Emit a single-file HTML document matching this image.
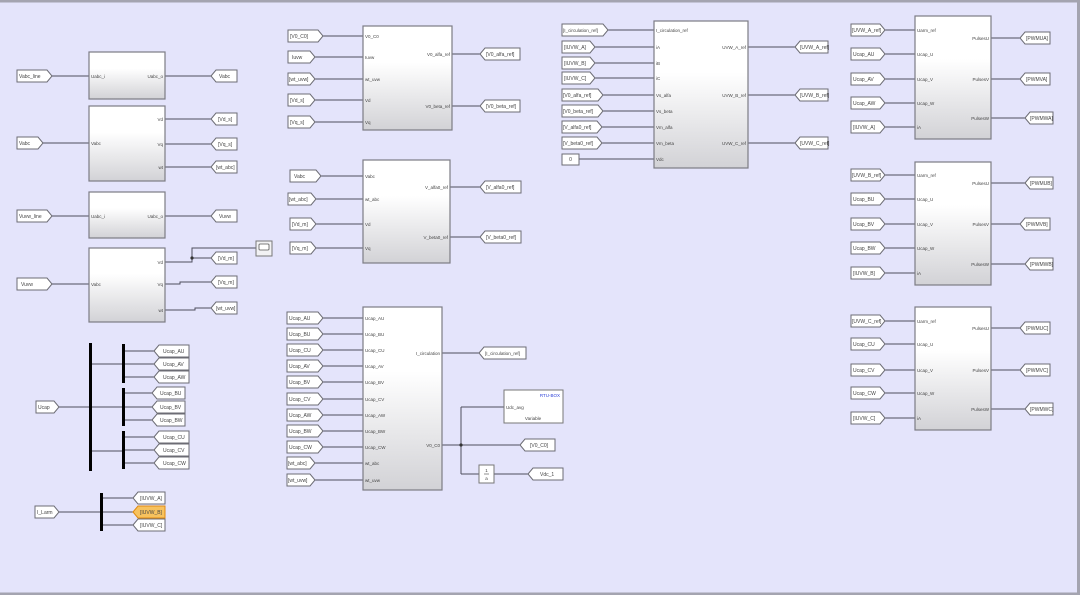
<!DOCTYPE html>
<html><head><meta charset="utf-8"><style>
html,body{margin:0;padding:0;background:#e4e4fb;}
svg{display:block;font-family:"Liberation Sans",sans-serif;}
.b{fill:url(#g);stroke:#7c7c84;stroke-width:1.2;}
.t{fill:#fff;stroke:#6c6c74;stroke-width:1;}
.w{stroke:#4e4e5e;stroke-width:1;fill:none;}
.l{font-size:5px;fill:#444;}
.p{font-size:4.5px;fill:#444;}
.e{text-anchor:end;}
</style></head><body>
<svg width="1080" height="595" viewBox="0 0 1080 595" xmlns="http://www.w3.org/2000/svg">
<defs><linearGradient id="g" x1="0" y1="0" x2="0" y2="1"><stop offset="0" stop-color="#fff"/><stop offset="0.35" stop-color="#fff"/><stop offset="1" stop-color="#d2d2d6"/></linearGradient></defs>
<rect x="0" y="0" width="1080" height="595" fill="#e4e4fb"/>
<rect x="0" y="0" width="1080" height="2.5" fill="#a4a4b0"/>
<rect x="1077" y="0" width="3" height="595" fill="#a4a4b0"/>
<rect x="0" y="592.5" width="1080" height="2.5" fill="#a4a4b0"/>

<!-- Block 1 -->
<polygon class="t" points="17,70 47,70 52,76 47,82 17,82"/><text class="l" x="19" y="78">Vabc_line</text>
<path class="w" d="M52 76H89M165 76H211"/>
<rect class="b" x="89" y="52" width="76" height="47"/>
<text class="p" x="91" y="78">Uabc_i</text><text class="p e" x="163" y="78">Uabc_o</text>
<polygon class="t" points="211,76 216,70 237,70 237,82 216,82"/><text class="l" x="219" y="78">Vabc</text>

<!-- Block 2 -->
<polygon class="t" points="17,137 38,137 43,143 38,149 17,149"/><text class="l" x="19" y="145">Vabc</text>
<path class="w" d="M43 143H89M165 119H211M165 144H211M165 167H211"/>
<rect class="b" x="89" y="106" width="76" height="75"/>
<text class="p" x="91" y="145">Vabc</text>
<text class="p e" x="163" y="121">Vd</text><text class="p e" x="163" y="146">Vq</text><text class="p e" x="163" y="169">wt</text>
<polygon class="t" points="211,119 216,113 237,113 237,125 216,125"/><text class="l" x="218" y="121">[Vd_s]</text>
<polygon class="t" points="211,144 216,138 237,138 237,150 216,150"/><text class="l" x="218" y="146">[Vq_s]</text>
<polygon class="t" points="211,167 216,161 237,161 237,173 216,173"/><text class="l" x="216" y="169">[wt_abc]</text>

<!-- Block 3 -->
<polygon class="t" points="17,210 47,210 52,216 47,222 17,222"/><text class="l" x="19" y="218">Vuvw_line</text>
<path class="w" d="M52 216H89M165 216H211"/>
<rect class="b" x="89" y="192" width="76" height="46"/>
<text class="p" x="91" y="218">Uabc_i</text><text class="p e" x="163" y="218">Uabc_o</text>
<polygon class="t" points="211,216 216,210 237,210 237,222 216,222"/><text class="l" x="219" y="218">Vuvw</text>

<!-- Block 4 -->
<polygon class="t" points="17,278 47,278 52,284 47,290 17,290"/><text class="l" x="21" y="286">Vuvw</text>
<path class="w" d="M52 284H89M165 262H192V248H256M192 258H211M165 284H180V282H211M165 310H195V308H211"/>
<circle cx="192" cy="258" r="1.6" fill="#333"/>
<rect class="b" x="89" y="248" width="76" height="74"/>
<text class="p" x="91" y="286">Vabc</text>
<text class="p e" x="163" y="264">Vd</text><text class="p e" x="163" y="286">Vq</text><text class="p e" x="163" y="312">wt</text>
<rect x="256" y="241" width="16" height="15" fill="#f2f2f4" stroke="#777" stroke-width="1"/>
<rect x="259" y="244" width="10" height="6" rx="1" fill="#fff" stroke="#555" stroke-width="0.8"/>
<polygon class="t" points="211,258 216,252 237,252 237,264 216,264"/><text class="l" x="218" y="260">[Vd_m]</text>
<polygon class="t" points="211,282 216,276 237,276 237,288 216,288"/><text class="l" x="218" y="284">[Vq_m]</text>
<polygon class="t" points="211,308 216,302 237,302 237,314 216,314"/><text class="l" x="216" y="310">[wt_uvw]</text>

<!-- Bus Ucap -->
<polygon class="t" points="36,401 54,401 59,407 54,413 36,413"/><text class="l" x="38" y="409">Ucap</text>
<path class="w" d="M59 407H89M92 364H122M92 407H122M92 451H122M125 351H154M125 364H154M125 377H154M125 393H152M125 407H152M125 420H152M125 437H154M125 450H154M125 463H154"/>
<rect x="89" y="343" width="3" height="128" fill="#000"/>
<rect x="122" y="344" width="3" height="39" fill="#000"/>
<rect x="122" y="388" width="3" height="38" fill="#000"/>
<rect x="122" y="431" width="3" height="38" fill="#000"/>
<polygon class="t" points="154,351 159,345 189,345 189,357 159,357"/><text class="l" x="163" y="353">Ucap_AU</text>
<polygon class="t" points="154,364 159,358 189,358 189,370 159,370"/><text class="l" x="163" y="366">Ucap_AV</text>
<polygon class="t" points="154,377 159,371 189,371 189,383 159,383"/><text class="l" x="163" y="379">Ucap_AW</text>
<polygon class="t" points="152,393 157,387 185,387 185,399 157,399"/><text class="l" x="160" y="395">Ucap_BU</text>
<polygon class="t" points="152,407 157,401 185,401 185,413 157,413"/><text class="l" x="160" y="409">Ucap_BV</text>
<polygon class="t" points="152,420 157,414 185,414 185,426 157,426"/><text class="l" x="160" y="422">Ucap_BW</text>
<polygon class="t" points="154,437 159,431 189,431 189,443 159,443"/><text class="l" x="163" y="439">Ucap_CU</text>
<polygon class="t" points="154,450 159,444 189,444 189,456 159,456"/><text class="l" x="163" y="452">Ucap_CV</text>
<polygon class="t" points="154,463 159,457 189,457 189,469 159,469"/><text class="l" x="163" y="465">Ucap_CW</text>

<!-- Bus I_Larm -->
<polygon class="t" points="35,506 54,506 59,512 54,518 35,518"/><text class="l" x="37" y="514">I_Larm</text>
<path class="w" d="M59 512H100M103 498H133M103 512H133M103 525H133"/>
<rect x="100" y="493" width="3" height="38" fill="#000"/>
<polygon class="t" points="133,498 138,492 165,492 165,504 138,504"/><text class="l" x="140" y="500">[IUVW_A]</text>
<polygon points="133,512 138,506 165,506 165,518 138,518" fill="#f7c25e" stroke="#e08a10" stroke-width="1"/><text class="l" x="140" y="514">[IUVW_B]</text>
<polygon class="t" points="133,525 138,519 165,519 165,531 138,531"/><text class="l" x="140" y="527">[IUVW_C]</text>

<!-- Block 5 -->
<path class="w" d="M323 36H363M315 57H363M315 79H363M315 100H363M315 122H363M452 54H480M452 106H480"/>
<polygon class="t" points="288,30 318,30 323,36 318,42 288,42"/><text class="l" x="290" y="38">[V0_C0]</text>
<polygon class="t" points="288,51 310,51 315,57 310,63 288,63"/><text class="l" x="292" y="59">Iuvw</text>
<polygon class="t" points="288,73 310,73 315,79 310,85 288,85"/><text class="l" x="289" y="81">[wt_uvw]</text>
<polygon class="t" points="288,94 310,94 315,100 310,106 288,106"/><text class="l" x="290" y="102">[Vd_s]</text>
<polygon class="t" points="288,116 310,116 315,122 310,128 288,128"/><text class="l" x="290" y="124">[Vq_s]</text>
<rect class="b" x="363" y="26" width="89" height="104"/>
<text class="p" x="365" y="38">V0_C0</text><text class="p" x="365" y="59">Iuvw</text><text class="p" x="365" y="81">wt_uvw</text><text class="p" x="365" y="102">Vd</text><text class="p" x="365" y="124">Vq</text>
<text class="p e" x="450" y="56">V0_alfa_ref</text><text class="p e" x="450" y="108">V0_beta_ref</text>
<polygon class="t" points="480,54 485,48 520,48 520,60 485,60"/><text class="l" x="486" y="56">[V0_alfa_ref]</text>
<polygon class="t" points="480,106 485,100 520,100 520,112 485,112"/><text class="l" x="486" y="108">[V0_beta_ref]</text>

<!-- Block 6 -->
<path class="w" d="M321 176H363M316 199H363M316 224H363M316 248H363M450 187H480M450 237H480"/>
<polygon class="t" points="290,170 316,170 321,176 316,182 290,182"/><text class="l" x="294" y="178">Vabc</text>
<polygon class="t" points="288,193 311,193 316,199 311,205 288,205"/><text class="l" x="289" y="201">[wt_abc]</text>
<polygon class="t" points="290,218 311,218 316,224 311,230 290,230"/><text class="l" x="292" y="226">[Vd_m]</text>
<polygon class="t" points="290,242 311,242 316,248 311,254 290,254"/><text class="l" x="292" y="250">[Vq_m]</text>
<rect class="b" x="363" y="160" width="87" height="103"/>
<text class="p" x="365" y="178">Vabc</text><text class="p" x="365" y="201">wt_abc</text><text class="p" x="365" y="226">Vd</text><text class="p" x="365" y="250">Vq</text>
<text class="p e" x="448" y="189">V_alfa0_ref</text><text class="p e" x="448" y="239">V_beta0_ref</text>
<polygon class="t" points="480,187 485,181 521,181 521,193 485,193"/><text class="l" x="486" y="189">[V_alfa0_ref]</text>
<polygon class="t" points="480,237 485,231 521,231 521,243 485,243"/><text class="l" x="486" y="239">[V_beta0_ref]</text>

<!-- Block 7 -->
<path class="w" d="M323 318H363M323 334H363M323 350H363M323 366H363M323 382H363M323 399H363M323 415H363M323 431H363M323 447H363M315 463H363M315 480H363M442 353H479M442 445H520M461 407V474M461 407H504M461 474H479M494 474H528"/>
<polygon class="t" points="287,312 318,312 323,318 318,324 287,324"/><text class="l" x="289" y="320">Ucap_AU</text>
<polygon class="t" points="287,328 318,328 323,334 318,340 287,340"/><text class="l" x="289" y="336">Ucap_BU</text>
<polygon class="t" points="287,344 318,344 323,350 318,356 287,356"/><text class="l" x="289" y="352">Ucap_CU</text>
<polygon class="t" points="287,360 318,360 323,366 318,372 287,372"/><text class="l" x="289" y="368">Ucap_AV</text>
<polygon class="t" points="287,376 318,376 323,382 318,388 287,388"/><text class="l" x="289" y="384">Ucap_BV</text>
<polygon class="t" points="287,393 318,393 323,399 318,405 287,405"/><text class="l" x="289" y="401">Ucap_CV</text>
<polygon class="t" points="287,409 318,409 323,415 318,421 287,421"/><text class="l" x="289" y="417">Ucap_AW</text>
<polygon class="t" points="287,425 318,425 323,431 318,437 287,437"/><text class="l" x="289" y="433">Ucap_BW</text>
<polygon class="t" points="287,441 318,441 323,447 318,453 287,453"/><text class="l" x="289" y="449">Ucap_CW</text>
<polygon class="t" points="287,457 310,457 315,463 310,469 287,469"/><text class="l" x="288" y="465">[wt_abc]</text>
<polygon class="t" points="287,474 310,474 315,480 310,486 287,486"/><text class="l" x="288" y="482">[wt_uvw]</text>
<rect class="b" x="363" y="307" width="79" height="183"/>
<text class="p" x="365" y="320">Ucap_AU</text><text class="p" x="365" y="336">Ucap_BU</text><text class="p" x="365" y="352">Ucap_CU</text><text class="p" x="365" y="368">Ucap_AV</text><text class="p" x="365" y="384">Ucap_BV</text><text class="p" x="365" y="401">Ucap_CV</text><text class="p" x="365" y="417">Ucap_AW</text><text class="p" x="365" y="433">Ucap_BW</text><text class="p" x="365" y="449">Ucap_CW</text><text class="p" x="365" y="465">wt_abc</text><text class="p" x="365" y="482">wt_uvw</text>
<text class="p e" x="440" y="355">I_circulation</text><text class="p e" x="440" y="447">V0_C0</text>
<circle cx="461" cy="445" r="1.6" fill="#333"/>
<polygon class="t" points="479,353 484,347 526,347 526,359 484,359"/><text class="l" x="485" y="355" style="font-size:4.6px">[I_circulation_ref]</text>
<polygon class="t" points="520,445 525,439 555,439 555,451 525,451"/><text class="l" x="530" y="447">[V0_C0]</text>
<rect x="479" y="465" width="15" height="18" fill="#fff" stroke="#777" stroke-width="1"/>
<text class="p" x="486.5" y="472" text-anchor="middle">1</text><path d="M484 474H489" stroke="#444" stroke-width="0.6"/><text class="p" x="486.5" y="480" text-anchor="middle">a</text>
<polygon class="t" points="528,474 533,468 563,468 563,480 533,480"/><text class="l" x="540" y="476">Vdc_1</text>
<rect x="504" y="390" width="59" height="33" fill="#fff" stroke="#777" stroke-width="1"/>
<text class="p e" x="560" y="397" style="fill:#2a3fd8">RTU-BOX</text>
<text class="p" x="506" y="409">Udc_avg</text>
<text class="p" x="533" y="420" text-anchor="middle">Variable</text>

<!-- Block 8 -->
<path class="w" d="M608 30H654M595 47H654M595 63H654M595 78H654M603 95H654M603 111H654M602 127H654M602 143H654M579 159H654M748 47H795M748 95H795M748 143H795"/>
<polygon class="t" points="562,24 603,24 608,30 603,36 562,36"/><text class="l" x="563" y="32" style="font-size:4.6px">[I_circulation_ref]</text>
<polygon class="t" points="562,41 590,41 595,47 590,53 562,53"/><text class="l" x="564" y="49">[IUVW_A]</text>
<polygon class="t" points="562,57 590,57 595,63 590,69 562,69"/><text class="l" x="564" y="65">[IUVW_B]</text>
<polygon class="t" points="562,72 590,72 595,78 590,84 562,84"/><text class="l" x="564" y="80">[IUVW_C]</text>
<polygon class="t" points="562,89 598,89 603,95 598,101 562,101"/><text class="l" x="563" y="97">[V0_alfa_ref]</text>
<polygon class="t" points="562,105 598,105 603,111 598,117 562,117"/><text class="l" x="563" y="113">[V0_beta_ref]</text>
<polygon class="t" points="562,121 597,121 602,127 597,133 562,133"/><text class="l" x="563" y="129">[V_alfa0_ref]</text>
<polygon class="t" points="562,137 597,137 602,143 597,149 562,149"/><text class="l" x="563" y="145">[V_beta0_ref]</text>
<rect x="562" y="154" width="17" height="11" fill="#fff" stroke="#6c6c74" stroke-width="1"/><text class="l" x="570.5" y="161" text-anchor="middle">0</text>
<rect class="b" x="654" y="21" width="94" height="147"/>
<text class="p" x="656" y="32">I_circulation_ref</text><text class="p" x="656" y="49">iA</text><text class="p" x="656" y="65">iB</text><text class="p" x="656" y="80">iC</text><text class="p" x="656" y="97">Vs_alfa</text><text class="p" x="656" y="113">Vs_beta</text><text class="p" x="656" y="129">Vm_alfa</text><text class="p" x="656" y="145">Vm_beta</text><text class="p" x="656" y="161">Vdc</text>
<text class="p e" x="746" y="49">UVW_A_ref</text><text class="p e" x="746" y="97">UVW_B_ref</text><text class="p e" x="746" y="145">UVW_C_ref</text>
<polygon class="t" points="795,47 800,41 828,41 828,53 800,53"/><text class="l" x="800" y="49">[UVW_A_ref]</text>
<polygon class="t" points="795,95 800,89 828,89 828,101 800,101"/><text class="l" x="800" y="97">[UVW_B_ref]</text>
<polygon class="t" points="795,143 800,137 828,137 828,149 800,149"/><text class="l" x="800" y="145">[UVW_C_ref]</text>

<!-- Block 9 -->
<path class="w" d="M885 30H915M885 54H915M885 79H915M885 103H915M885 127H915M991 38H1020M991 79H1020M991 118H1025"/>
<polygon class="t" points="851,24 880,24 885,30 880,36 851,36"/><text class="l" x="852" y="32">[UVW_A_ref]</text>
<polygon class="t" points="851,48 880,48 885,54 880,60 851,60"/><text class="l" x="853" y="56">Ucap_AU</text>
<polygon class="t" points="851,73 880,73 885,79 880,85 851,85"/><text class="l" x="853" y="81">Ucap_AV</text>
<polygon class="t" points="851,97 880,97 885,103 880,109 851,109"/><text class="l" x="853" y="105">Ucap_AW</text>
<polygon class="t" points="851,121 880,121 885,127 880,133 851,133"/><text class="l" x="853" y="129">[IUVW_A]</text>
<rect class="b" x="915" y="16" width="76" height="123"/>
<text class="p" x="917" y="32">Uarm_ref</text><text class="p" x="917" y="56">Ucap_U</text><text class="p" x="917" y="81">Ucap_V</text><text class="p" x="917" y="105">Ucap_W</text><text class="p" x="917" y="129">iA</text>
<text class="p e" x="989" y="40">PulsesU</text><text class="p e" x="989" y="81">PulsesV</text><text class="p e" x="989" y="120">PulsesW</text>
<polygon class="t" points="1020,38 1025,32 1050,32 1050,44 1025,44"/><text class="l" x="1026" y="40">[PWMUA]</text>
<polygon class="t" points="1020,79 1025,73 1050,73 1050,85 1025,85"/><text class="l" x="1026" y="81">[PWMVA]</text>
<polygon class="t" points="1025,118 1030,112 1053,112 1053,124 1030,124"/><text class="l" x="1030" y="120">[PWMWA]</text>

<!-- Block 10 -->
<path class="w" d="M885 175H915M885 199H915M885 224H915M885 248H915M885 273H915M991 183H1025M991 224H1020M991 264H1025"/>
<polygon class="t" points="851,169 880,169 885,175 880,181 851,181"/><text class="l" x="852" y="177">[UVW_B_ref]</text>
<polygon class="t" points="851,193 880,193 885,199 880,205 851,205"/><text class="l" x="853" y="201">Ucap_BU</text>
<polygon class="t" points="851,218 880,218 885,224 880,230 851,230"/><text class="l" x="853" y="226">Ucap_BV</text>
<polygon class="t" points="851,242 880,242 885,248 880,254 851,254"/><text class="l" x="853" y="250">Ucap_BW</text>
<polygon class="t" points="851,267 880,267 885,273 880,279 851,279"/><text class="l" x="853" y="275">[IUVW_B]</text>
<rect class="b" x="915" y="162" width="76" height="123"/>
<text class="p" x="917" y="177">Uarm_ref</text><text class="p" x="917" y="201">Ucap_U</text><text class="p" x="917" y="226">Ucap_V</text><text class="p" x="917" y="250">Ucap_W</text><text class="p" x="917" y="275">iA</text>
<text class="p e" x="989" y="185">PulsesU</text><text class="p e" x="989" y="226">PulsesV</text><text class="p e" x="989" y="266">PulsesW</text>
<polygon class="t" points="1025,183 1030,177 1053,177 1053,189 1030,189"/><text class="l" x="1030" y="185">[PWMUB]</text>
<polygon class="t" points="1020,224 1025,218 1050,218 1050,230 1025,230"/><text class="l" x="1026" y="226">[PWMVB]</text>
<polygon class="t" points="1025,264 1030,258 1053,258 1053,270 1030,270"/><text class="l" x="1030" y="266">[PWMWB]</text>

<!-- Block 11 -->
<path class="w" d="M885 321H915M885 344H915M885 370H915M885 393H915M885 418H915M991 328H1020M991 370H1020M991 409H1025"/>
<polygon class="t" points="851,315 880,315 885,321 880,327 851,327"/><text class="l" x="852" y="323">[UVW_C_ref]</text>
<polygon class="t" points="851,338 880,338 885,344 880,350 851,350"/><text class="l" x="853" y="346">Ucap_CU</text>
<polygon class="t" points="851,364 880,364 885,370 880,376 851,376"/><text class="l" x="853" y="372">Ucap_CV</text>
<polygon class="t" points="851,387 880,387 885,393 880,399 851,399"/><text class="l" x="853" y="395">Ucap_CW</text>
<polygon class="t" points="851,412 880,412 885,418 880,424 851,424"/><text class="l" x="853" y="420">[IUVW_C]</text>
<rect class="b" x="915" y="307" width="76" height="123"/>
<text class="p" x="917" y="323">Uarm_ref</text><text class="p" x="917" y="346">Ucap_U</text><text class="p" x="917" y="372">Ucap_V</text><text class="p" x="917" y="395">Ucap_W</text><text class="p" x="917" y="420">iA</text>
<text class="p e" x="989" y="330">PulsesU</text><text class="p e" x="989" y="372">PulsesV</text><text class="p e" x="989" y="411">PulsesW</text>
<polygon class="t" points="1020,328 1025,322 1050,322 1050,334 1025,334"/><text class="l" x="1026" y="330">[PWMUC]</text>
<polygon class="t" points="1020,370 1025,364 1050,364 1050,376 1025,376"/><text class="l" x="1026" y="372">[PWMVC]</text>
<polygon class="t" points="1025,409 1030,403 1053,403 1053,415 1030,415"/><text class="l" x="1030" y="411">[PWMWC]</text>
</svg>
</body></html>
